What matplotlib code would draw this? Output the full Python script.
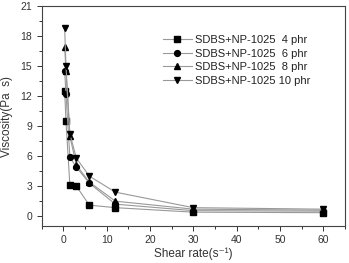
import matplotlib
matplotlib.use("Agg")
import matplotlib.pyplot as plt
from matplotlib.ticker import MultipleLocator

plt.rcParams['font.family'] = ['Liberation Sans', 'DejaVu Sans']

shear = [0.3, 0.6, 1.5, 3, 6, 12, 30, 60]
v4 = [12.5, 9.5, 3.1, 3.0, 1.1, 0.85, 0.4, 0.35]
v6 = [14.5, 12.2, 5.9, 4.9, 3.3, 1.2, 0.55, 0.5]
v8 = [16.9, 14.5, 8.0, 5.1, 3.4, 1.5, 0.7, 0.6]
v10 = [18.8, 15.0, 8.2, 5.8, 4.0, 2.4, 0.85, 0.7]
labels = ['SDBS+NP-1025  4 phr', 'SDBS+NP-1025  6 phr',
          'SDBS+NP-1025  8 phr', 'SDBS+NP-1025 10 phr']
markers = ['s', 'o', '^', 'v']

fig = plt.figure(figsize=(3.49, 2.63), dpi=100)
ax = fig.add_axes([0.1195, 0.14, 0.869, 0.837])

for vals, lab, m in zip([v4, v6, v8, v10], labels, markers):
    ax.plot(shear, vals, color='#999999', lw=0.8, marker=m, ms=4.2,
            mfc='black', mec='black', label=lab)

ax.set_xlim(-5, 65)
ax.set_ylim(-1, 21)
ax.xaxis.set_major_locator(MultipleLocator(10))
ax.xaxis.set_minor_locator(MultipleLocator(5))
ax.yaxis.set_major_locator(MultipleLocator(3))
ax.yaxis.set_minor_locator(MultipleLocator(1.5))
ax.tick_params(which='both', direction='out', labelsize=7.5, width=0.7,
               color='#333333', labelcolor='#333333')
ax.tick_params(which='major', length=3.5)
ax.tick_params(which='minor', length=2)
ax.tick_params(axis='x', pad=2.5)
for s in ax.spines.values():
    s.set_linewidth(0.8)
    s.set_color('#444444')

ax.set_xlabel('Shear rate(s\u207b\u00b9)', fontsize=8.5, color='#333333', labelpad=2)
ax.set_ylabel('Viscosity(Pa  s)', fontsize=8.5, color='#333333', labelpad=5)

leg = ax.legend(loc='upper left', bbox_to_anchor=(0.385, 0.888), frameon=False,
                fontsize=8, handlelength=2.6, handletextpad=0.27,
                labelspacing=0.32, borderaxespad=0)
for t in leg.get_texts():
    t.set_color('#222222')

fig.savefig('out.png', dpi=100)
